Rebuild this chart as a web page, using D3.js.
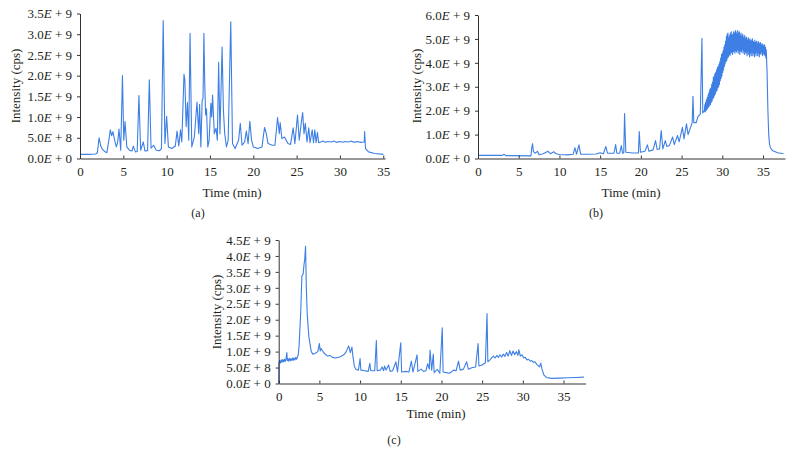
<!DOCTYPE html>
<html><head><meta charset="utf-8">
<script src="https://cdn.jsdelivr.net/npm/d3@7"></script>
<style>
body{margin:0;background:#fff;}
svg{display:block;}
svg text{font-family:"Liberation Serif","Times New Roman",Times,serif;fill:#231f20;}
</style></head><body>
<svg id="c" width="792" height="465"></svg>
<script>
// ---- data (time in min, intensity in units of 1E9 cps) ----
const seriesA = [
[0,0.10],[1.0,0.10],[1.8,0.11],[2.0,0.14],[2.2,0.50],[2.4,0.30],[2.6,0.22],[2.9,0.16],[3.1,0.14],
[3.3,0.40],[3.5,0.69],[3.65,0.55],[3.8,0.65],[4.0,0.44],[4.2,0.28],[4.35,0.40],[4.5,0.71],[4.7,0.20],
[4.9,2.00],[5.05,0.44],[5.2,0.89],[5.4,0.28],[5.7,0.20],[6.0,0.18],[6.15,0.30],[6.4,0.16],[6.6,0.17],
[6.8,1.52],[7.0,0.20],[7.3,0.40],[7.5,0.18],[7.8,0.19],[8.0,1.90],[8.2,0.25],[8.5,0.32],[8.8,0.20],
[9.2,0.19],[9.4,0.24],[9.6,3.33],[9.8,0.36],[10.0,1.02],[10.2,0.28],[10.6,0.24],[11.0,0.30],[11.2,0.66],
[11.4,0.30],[11.6,0.69],[11.75,0.40],[12.0,2.03],[12.1,1.90],[12.25,0.77],[12.4,1.35],[12.55,0.44],
[12.7,3.02],[12.9,0.28],[13.2,0.52],[13.5,1.36],[13.7,0.60],[13.8,1.31],[13.95,0.28],[14.1,1.41],
[14.2,1.45],[14.3,3.02],[14.4,1.77],[14.5,1.05],[14.6,1.20],[14.75,0.28],[14.9,0.44],[15.1,1.33],
[15.2,1.00],[15.3,1.53],[15.5,0.60],[15.7,0.73],[15.85,0.44],[16.0,2.32],[16.15,0.60],[16.4,2.69],
[16.55,1.17],[16.7,0.60],[16.9,0.28],[17.1,0.44],[17.4,3.30],[17.6,0.36],[17.9,0.24],[18.3,0.44],
[18.5,0.85],[18.7,0.32],[19.0,0.40],[19.2,0.66],[19.4,0.36],[19.6,0.90],[19.8,0.44],[20.0,0.28],
[20.5,0.24],[21.0,0.28],[21.3,0.75],[21.5,0.60],[21.7,0.36],[22.2,0.32],[22.5,0.32],[22.8,0.99],
[23.0,0.60],[23.1,0.87],[23.3,0.48],[23.6,0.52],[24.0,0.36],[24.3,0.34],[24.6,0.74],[24.8,0.36],
[25.1,1.05],[25.3,0.44],[25.6,0.97],[25.7,1.11],[25.85,0.60],[26.0,0.85],[26.2,0.40],[26.4,0.74],
[26.55,0.38],[26.8,0.69],[26.95,0.38],[27.1,0.69],[27.25,0.38],[27.4,0.63],[27.55,0.38],[27.8,0.40],
[28.0,0.42],[28.3,0.39],[28.6,0.41],[29.0,0.40],[29.3,0.42],[29.6,0.39],[30.0,0.41],[30.3,0.39],
[30.6,0.41],[31.0,0.40],[31.3,0.42],[31.6,0.39],[32.0,0.41],[32.4,0.39],[32.8,0.40],[32.85,0.65],
[32.95,0.24],[33.3,0.16],[34.0,0.12],[35.0,0.10]
];
const seriesB = [
[0,0.13],[3.0,0.13],[3.2,0.18],[3.4,0.12],[6.5,0.11],[6.6,0.45],[6.7,0.62],[6.8,0.30],[7.0,0.22],
[7.3,0.30],[7.5,0.16],[8.0,0.20],[8.6,0.30],[8.9,0.20],[9.3,0.28],[9.6,0.20],[10.0,0.17],[11.0,0.15],
[11.7,0.18],[11.9,0.45],[12.1,0.18],[12.4,0.57],[12.6,0.18],[13.5,0.18],[14.5,0.19],[15.0,0.24],
[15.4,0.20],[15.7,0.50],[15.9,0.22],[16.7,0.22],[16.9,0.58],[17.05,0.22],[17.4,0.22],[17.6,0.54],
[17.75,0.22],[17.9,0.24],[18.0,1.88],[18.15,0.26],[19.0,0.23],[19.7,0.23],[19.8,1.13],[19.95,0.26],
[20.5,0.30],[20.8,0.57],[21.0,0.30],[21.5,0.36],[21.8,0.75],[22.0,0.38],[22.3,0.40],[22.5,1.17],
[22.7,0.40],[23.0,0.75],[23.2,0.50],[23.5,0.54],[23.9,0.90],[24.1,0.58],[24.5,0.96],[24.7,0.70],
[25.1,1.30],[25.3,0.82],[25.6,1.45],[25.8,1.00],[26.1,1.30],[26.3,1.50],[26.4,2.60],[26.5,1.50],
[26.8,1.50],[27.0,1.75],[27.3,1.85],[27.5,5.03],[27.6,1.90],
[27.80,2.00],[27.85,2.25],[27.90,1.95],[27.95,2.35],[28.00,2.00],[28.05,2.45],[28.10,2.05],[28.15,2.55],
[28.20,2.10],[28.25,2.65],[28.30,2.15],[28.35,2.75],[28.40,2.20],[28.45,2.85],
[28.50,2.90],[28.55,2.25],[28.60,2.95],[28.65,2.35],[28.70,3.10],[28.75,2.40],[28.80,3.20],[28.85,2.50],
[28.90,3.40],[28.95,2.55],[29.00,3.45],[29.05,2.65],[29.10,3.55],[29.15,2.70],[29.20,3.60],[29.25,2.80],
[29.30,3.70],[29.35,2.85],[29.40,3.80],[29.45,2.95],[29.50,3.85],[29.55,3.00],[29.60,3.95],[29.65,3.10],
[29.70,4.05],[29.75,3.25],[29.80,4.20],[29.85,3.35],[29.90,4.35],[29.95,3.45],[30.00,4.40],[30.05,3.60],
[30.10,4.50],[30.15,3.70],[30.20,4.65],[30.25,3.85],[30.30,4.75],[30.35,3.95],[30.40,4.90],[30.45,4.05],
[30.50,5.10],[30.55,4.10],[30.60,5.20],[30.65,4.20],[30.70,5.25],[30.75,4.25],[30.80,5.05],[30.85,4.35],
[30.90,5.15],[30.95,4.30],[31.00,5.25],[31.05,4.40],[31.10,5.30],[31.15,4.45],[31.20,5.15],[31.25,4.35],
[31.30,5.20],[31.35,4.45],[31.40,5.30],[31.45,4.50],[31.50,5.25],[31.55,4.40],[31.60,5.35],[31.65,4.50],
[31.70,5.30],[31.75,4.45],[31.80,5.20],[31.85,4.55],[31.90,5.35],[31.95,4.40],[32.00,5.25],[32.05,4.50],
[32.10,5.30],[32.15,4.35],[32.20,5.15],[32.25,4.50],[32.30,5.25],[32.35,4.45],[32.40,5.10],[32.45,4.55],
[32.50,5.20],[32.55,4.40],[32.60,5.05],[32.65,4.50],[32.70,5.15],[32.75,4.35],[32.80,5.00],[32.85,4.45],
[32.90,5.10],[32.95,4.40],[33.00,5.05],[33.05,4.30],[33.10,4.95],[33.15,4.45],[33.20,5.05],[33.25,4.35],
[33.30,4.95],[33.35,4.25],[33.40,5.00],[33.45,4.40],[33.50,4.90],[33.55,4.30],[33.60,4.95],[33.65,4.45],
[33.70,5.00],[33.75,4.30],[33.80,4.90],[33.85,4.40],[33.90,4.85],[33.95,4.25],[34.00,4.95],[34.05,4.40],
[34.10,4.85],[34.15,4.30],[34.20,4.90],[34.25,4.45],[34.30,4.80],[34.35,4.30],[34.40,4.90],[34.45,4.40],
[34.50,4.85],[34.55,4.25],[34.60,4.80],[34.65,4.40],[34.70,4.85],[34.75,4.35],[34.80,4.75],[34.85,4.45],
[34.90,4.80],[34.95,4.30],[35.00,4.75],[35.05,4.40],[35.10,4.70],[35.15,4.35],[35.20,4.75],[35.25,4.30],
[35.30,4.65],[35.35,4.20],[35.40,4.55],[35.50,3.60],[35.60,2.00],[35.70,1.00],[35.80,0.60],
[35.90,0.45],[36.2,0.32],[36.8,0.24],[37.5,0.20]
];
const seriesC = [
[0.0,0.00],[0.02,0.63],[0.1,0.72],[0.2,0.64],[0.3,0.74],[0.4,0.66],[0.5,0.75],[0.6,0.68],[0.7,0.76],
[0.8,0.69],[0.9,0.78],[1.0,0.97],[1.05,0.72],[1.1,0.78],[1.2,0.70],[1.3,0.79],[1.4,0.71],[1.5,0.78],
[1.6,0.72],[1.7,0.80],[1.8,0.73],[1.9,0.80],[2.0,0.74],[2.1,0.82],[2.2,0.76],[2.3,0.83],[2.4,0.90],
[2.5,1.16],[2.7,2.20],[2.85,3.38],[3.0,3.43],[3.1,3.70],[3.2,3.90],[3.3,4.30],[3.4,2.96],[3.5,2.20],
[3.7,1.48],[4.0,1.00],[4.2,0.92],[4.5,0.95],[4.8,1.00],[5.0,1.25],[5.1,1.02],[5.2,1.10],[5.5,0.98],
[5.8,0.90],[6.0,0.86],[6.3,0.88],[6.6,0.82],[7.0,0.80],[7.5,0.83],[8.0,0.90],[8.3,1.00],[8.6,1.18],
[8.8,0.97],[9.0,1.14],[9.1,0.90],[9.3,0.53],[9.5,0.44],[9.8,0.42],[10.0,0.78],[10.1,0.42],[10.6,0.40],
[11.0,0.38],[11.2,0.63],[11.3,0.40],[11.8,0.40],[12.0,1.35],[12.1,0.40],[12.5,0.42],[12.7,0.52],
[12.9,0.40],[13.0,0.55],[13.2,0.42],[13.5,0.58],[13.7,0.38],[14.0,0.40],[14.4,0.68],[14.6,0.36],
[15.0,1.28],[15.1,0.36],[15.6,0.38],[16.0,0.36],[16.3,0.70],[16.5,0.36],[17.0,0.90],[17.1,0.38],
[17.5,0.45],[17.8,0.38],[18.1,0.40],[18.3,0.62],[18.5,0.45],[18.6,1.05],[18.8,0.42],[19.0,0.92],
[19.1,0.34],[19.5,0.44],[19.8,0.32],[20.1,1.75],[20.2,0.36],[20.6,0.34],[21.0,0.32],[21.5,0.42],
[21.8,0.40],[22.1,0.70],[22.3,0.42],[22.7,0.45],[23.1,0.68],[23.3,0.45],[23.8,0.50],[24.2,0.52],
[24.5,1.25],[24.6,0.55],[25.0,0.58],[25.4,0.65],[25.6,2.19],[25.7,0.68],[26.0,0.75],[26.2,0.82],
[26.4,0.86],[26.6,0.80],[26.8,0.88],[27.0,0.82],[27.2,0.90],[27.4,0.83],[27.6,0.92],[27.8,0.85],
[28.0,0.97],[28.2,0.86],[28.4,1.03],[28.6,0.88],[28.8,1.02],[29.0,0.90],[29.2,1.00],[29.4,0.88],
[29.5,1.06],[29.7,0.86],[29.9,0.90],[30.1,0.80],[30.3,0.82],[30.5,0.74],[30.7,0.76],[30.9,0.70],
[31.1,0.72],[31.3,0.66],[31.5,0.68],[31.7,0.60],[31.9,0.56],[32.05,0.52],[32.2,0.64],[32.35,0.45],
[32.6,0.26],[32.9,0.19],[33.5,0.16],[34.5,0.17],[35.5,0.18],[36.5,0.19],[37.5,0.20]
];
const xTicksA = [0,5,10,15,20,25,30,35];
const xTicksB = [0,5,10,15,20,25,30,35];
const xTicksC = [0,5,10,15,20,25,30,35];
const yTicksA = [0,0.5,1,1.5,2,2.5,3,3.5];
const yLabelsA = ["0.0E + 0","5.0E + 8","1.0E + 9","1.5E + 9","2.0E + 9","2.5E + 9","3.0E + 9","3.5E + 9"];
const yTicksB = [0,1,2,3,4,5,6];
const yLabelsB = ["0.0E + 0","1.0E + 9","2.0E + 9","3.0E + 9","4.0E + 9","5.0E + 9","6.0E + 9"];
const yTicksC = [0,0.5,1,1.5,2,2.5,3,3.5,4,4.5];
const yLabelsC = ["0.0E + 0","5.0E + 8","1.0E + 9","1.5E + 9","2.0E + 9","2.5E + 9","3.0E + 9","3.5E + 9","4.0E + 9","4.5E + 9"];
const captions = ["(a)","(b)","(c)"];

const FONT = '"Liberation Serif","Times New Roman",Times,serif';
const panels = [
  {data:seriesA, xMax:35.2, yMax:3.5, x0:80, x1:385, y0:158.5, y1:13.5, xt:xTicksA, yt:yTicksA, yl:yLabelsA,
   ytX:15, ytY:86, xtX:232, xtY:192, cap:captions[0], capX:198, capY:213},
  {data:seriesB, xMax:37.7, yMax:6, x0:478, x1:785, y0:158.5, y1:15, xt:xTicksB, yt:yTicksB, yl:yLabelsB,
   ytX:416, ytY:86, xtX:631, xtY:192, cap:captions[1], capX:596, capY:213},
  {data:seriesC, xMax:37.7, yMax:4.5, x0:278.7, x1:585.5, y0:383.5, y1:240, xt:xTicksC, yt:yTicksC, yl:yLabelsC,
   ytX:216, ytY:312, xtX:436, xtY:413, cap:captions[2], capX:394, capY:440}
];

const svg = d3.select("#c");
const lineColor = "#3d7fe4";
const axisColor = "#333";

panels.forEach(p => {
  const x = d3.scaleLinear().domain([0, p.xMax]).range([p.x0, p.x1]);
  const y = d3.scaleLinear().domain([0, p.yMax]).range([p.y0, p.y1]);
  const g = svg.append("g");

  const line = d3.line().x(d => x(d[0])).y(d => y(d[1]));
  g.append("path").datum(p.data).attr("d", line)
    .attr("fill","none").attr("stroke", lineColor).attr("stroke-width",1.1)
    .attr("stroke-linejoin","round");

  const xa = g.append("g").attr("transform", `translate(0,${p.y0})`)
    .call(d3.axisBottom(x).tickValues(p.xt).tickSizeInner(-3).tickSizeOuter(0).tickPadding(8).tickFormat(d3.format("d")));
  const ya = g.append("g").attr("transform", `translate(${p.x0},0)`)
    .call(d3.axisLeft(y).tickValues(p.yt).tickSizeInner(3).tickSizeOuter(0).tickPadding(5).tickFormat((d,i) => p.yl[i]));
  [xa, ya].forEach(a => {
    a.attr("font-family", FONT).attr("font-size", 13);
    a.select(".domain").attr("stroke", axisColor).attr("stroke-width",1);
    a.selectAll(".tick line").attr("stroke", axisColor);
  });
  // italic E in y tick labels
  ya.selectAll(".tick text").each(function(d,i){
    const t = d3.select(this);
    const s = p.yl[i];
    const k = s.indexOf("E");
    t.text(null);
    t.append("tspan").text(s.slice(0,k));
    t.append("tspan").attr("font-style","italic").text("E");
    t.append("tspan").text(s.slice(k+1));
  });

  g.append("text").attr("transform", `translate(${p.ytX},${p.ytY}) rotate(-90)`)
    .attr("text-anchor","middle").attr("dominant-baseline","central").attr("font-size",13)
    .text("Intensity (cps)");
  g.append("text").attr("x", p.xtX).attr("y", p.xtY)
    .attr("text-anchor","middle").attr("dominant-baseline","central").attr("font-size",13)
    .text("Time (min)");
  g.append("text").attr("x", p.capX).attr("y", p.capY)
    .attr("text-anchor","middle").attr("dominant-baseline","central").attr("font-size",12)
    .text(p.cap);
});
</script>
</body></html>
